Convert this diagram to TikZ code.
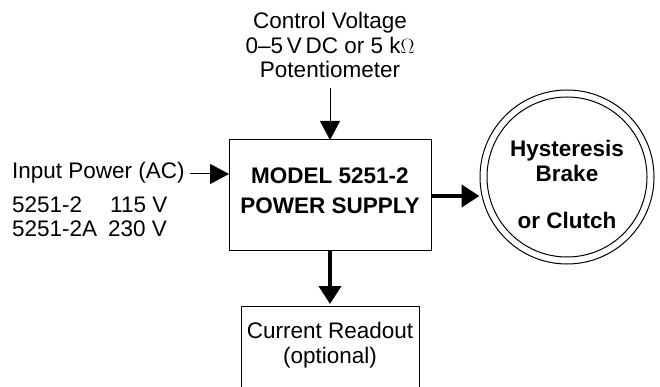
\documentclass[tikz,border=0pt]{standalone}
\usepackage{fontspec}
\setmainfont{Liberation Sans}
\usetikzlibrary{arrows.meta}
\begin{document}
\begin{tikzpicture}[x=1pt,y=-1pt,
  txt/.style={inner sep=0pt,font=\fontsize{22.5}{24.5}\selectfont,align=center},
  btxt/.style={inner sep=0pt,font=\fontsize{22.5}{25}\selectfont\bfseries,align=center},
  ltxt/.style={inner sep=0pt,font=\fontsize{22.5}{24}\selectfont,anchor=west},
  box/.style={draw,line width=1pt},
  thinarrow/.style={line width=1pt,-{Triangle[width=20pt,length=19pt]}},
  thickarrow/.style={line width=4pt,-{Triangle[width=22pt,length=18pt]}}]
\useasboundingbox (0,0) rectangle (660,387);
\clip (0,0) rectangle (660,387);
% main box
\draw[box] (229,140) rectangle (431,250);
\coordinate (mainW) at (229,174);
\coordinate (mainN) at (330,140);
\coordinate (mainE) at (431,196);
\coordinate (mainS) at (330,250);
\node[btxt,font=\fontsize{22.5}{30.5}\selectfont\bfseries] (main) at (330,191) {MODEL 5251-2\\POWER SUPPLY};
% control
\node[txt] (ctrl) at (330,45) {Control Voltage\\0–5\,V\,DC or 5 k$\Omega$\\Potentiometer};
\coordinate (ctrlS) at (330,88);
\draw[thinarrow] (ctrlS) -- (mainN);
% input
\node[ltxt] (inp) at (12,173) {Input Power (AC)};
\node[ltxt] (m1) at (12,205) {5251-2};
\node[ltxt] (v1) at (110,205) {115 V};
\node[ltxt] (m2) at (12,229) {5251-2A};
\node[ltxt] (v2) at (108,229) {230 V};
\coordinate (inpE) at (190,174);
\draw[thinarrow] (inpE) -- (mainW);
% brake
\node[draw,circle,line width=1pt,minimum size=174pt,inner sep=0pt] (outer) at (567,177) {};
\node[draw,circle,line width=1pt,minimum size=160pt,inner sep=0pt] (inner) at (567,177) {};
\node[btxt] (hb) at (567,161) {Hysteresis\\Brake};
\node[btxt] (oc) at (567,220) {or Clutch};
\draw[thickarrow] (mainE) -- (outer.west |- mainE);
% readout
\draw[box] (241,306) rectangle (419,400);
\coordinate (roN) at (330,304);
\node[txt] (ro) at (330,345) {Current Readout\\(optional)};
\draw[thickarrow] (mainS) -- (roN);
\end{tikzpicture}
\end{document}
